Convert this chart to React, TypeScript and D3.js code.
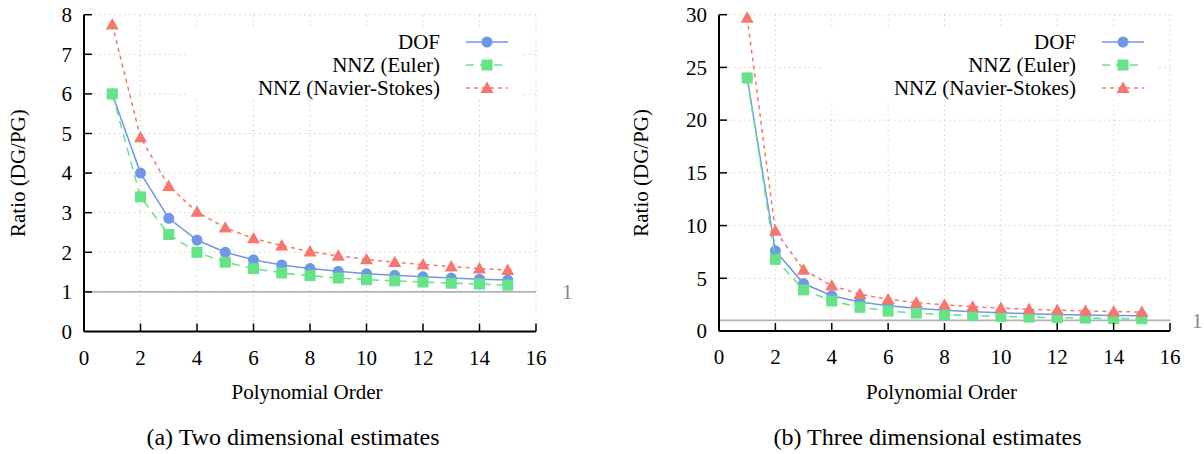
import React from "react";
import * as d3 from "d3";

const orders = [1, 2, 3, 4, 5, 6, 7, 8, 9, 10, 11, 12, 13, 14, 15];

const dof2 = [6, 4, 2.86, 2.31, 2.0, 1.81, 1.68, 1.59, 1.52, 1.46, 1.42, 1.38, 1.35, 1.32, 1.3];
const euler2 = [6, 3.4, 2.45, 2.0, 1.75, 1.59, 1.48, 1.41, 1.35, 1.31, 1.28, 1.25, 1.22, 1.2, 1.17];
const ns2 = [7.75, 4.9, 3.67, 3.02, 2.62, 2.35, 2.17, 2.02, 1.91, 1.82, 1.75, 1.69, 1.64, 1.59, 1.55];

const dof3 = [24, 7.6, 4.5, 3.35, 2.75, 2.4, 2.15, 1.97, 1.83, 1.72, 1.64, 1.57, 1.51, 1.47, 1.44];
const euler3 = [24, 6.8, 3.9, 2.85, 2.25, 1.9, 1.7, 1.55, 1.45, 1.38, 1.32, 1.27, 1.23, 1.19, 1.16];
const ns3 = [29.7, 9.5, 5.8, 4.3, 3.5, 3.0, 2.7, 2.48, 2.3, 2.17, 2.06, 1.98, 1.9, 1.84, 1.8];

const xTicks = [0, 2, 4, 6, 8, 10, 12, 14, 16];
const yTicks2 = [0, 1, 2, 3, 4, 5, 6, 7, 8];
const yTicks3 = [0, 5, 10, 15, 20, 25, 30];

const seriesNames = ["DOF", "NNZ (Euler)", "NNZ (Navier-Stokes)"];
const colors = ["#6f97e8", "#64e388", "#f7766d"];
const dashes = ["none", "8,6", "4,4"];

const FONT = "Liberation Serif, Times New Roman, serif";
const GRID = "#d6d3bb";

type ChartProps = {
  left: number;
  right: number;
  top: number;
  bottom: number;
  yMax: number;
  yTicks: number[];
  series: number[][];
  caption: string;
  titleX: number;
  refLabelX: number;
  legendTextX: number;
  legendBox: [number, number, number, number];
};

function Marker({ kind, x, y, color }: { kind: number; x: number; y: number; color: string }) {
  if (kind === 0) return <circle cx={x} cy={y} r={5.5} fill={color} />;
  if (kind === 1) return <rect x={x - 5.5} y={y - 5.5} width={11} height={11} fill={color} />;
  const s = 6.5;
  const pts = `${x},${y - s} ${x - s},${y + s * 0.75} ${x + s},${y + s * 0.75}`;
  return <polygon points={pts} fill={color} />;
}

function Chart(p: ChartProps) {
  const x = d3.scaleLinear().domain([0, 16]).range([p.left, p.right]);
  const y = d3.scaleLinear().domain([0, p.yMax]).range([p.bottom, p.top]);
  const line = d3
    .line<number>()
    .x((_, i) => x(orders[i]))
    .y((d) => y(d));
  const [bx, by, bw, bh] = p.legendBox;
  const legendRows = [42, 65, 88];
  const sampleX0 = p.legendTextX + 26;
  const sampleX1 = p.legendTextX + 68;
  return (
    <g>
      {xTicks.slice(1).map((t) => (
        <line key={"gx" + t} x1={x(t)} x2={x(t)} y1={p.bottom} y2={p.top} stroke={GRID} strokeWidth={1} strokeDasharray="1.5,3.5" />
      ))}
      {p.yTicks.slice(1).map((t) => (
        <line key={"gy" + t} x1={p.left} x2={p.right} y1={y(t)} y2={y(t)} stroke={GRID} strokeWidth={1} strokeDasharray="1.5,3.5" />
      ))}
      <rect x={bx} y={by} width={bw} height={bh} fill="white" />
      <line x1={p.left} x2={p.right} y1={y(1)} y2={y(1)} stroke="#b3b3b3" strokeWidth={1.8} />
      <text x={p.refLabelX} y={y(1)} dy="0.35em" fontFamily={FONT} fontSize={21} fill="#888">
        1
      </text>
      {p.series.map((s, k) => (
        <g key={"s" + k}>
          <path d={line(s) || ""} fill="none" stroke={colors[k]} strokeWidth={1.5} strokeDasharray={dashes[k]} />
          {s.map((v, i) => (
            <Marker key={i} kind={k} x={x(orders[i])} y={y(v)} color={colors[k]} />
          ))}
        </g>
      ))}
      <line x1={p.left} x2={p.left} y1={p.top} y2={p.bottom} stroke="#000" strokeWidth={2} />
      <line x1={p.left} x2={p.right} y1={p.bottom} y2={p.bottom} stroke="#000" strokeWidth={2} />
      {xTicks.map((t) => (
        <g key={"xt" + t}>
          {t > 0 && <line x1={x(t)} x2={x(t)} y1={p.bottom} y2={p.bottom - 8} stroke="#000" strokeWidth={1.5} />}
          <text x={x(t)} y={p.bottom + 26} textAnchor="middle" dy="0.35em" fontFamily={FONT} fontSize={21}>
            {t}
          </text>
        </g>
      ))}
      {p.yTicks.map((t) => (
        <g key={"yt" + t}>
          {t > 0 && <line x1={p.left} x2={p.left + 8} y1={y(t)} y2={y(t)} stroke="#000" strokeWidth={1.5} />}
          <text x={p.left - 12} y={y(t)} textAnchor="end" dy="0.35em" fontFamily={FONT} fontSize={21}>
            {t}
          </text>
        </g>
      ))}
      <text x={(p.left + p.right) / 2 - 3} y={392} textAnchor="middle" dy="0.35em" fontFamily={FONT} fontSize={21}>
        Polynomial Order
      </text>
      <text
        transform={`translate(${p.titleX},${(p.top + p.bottom) / 2}) rotate(-90)`}
        textAnchor="middle"
        dy="0.35em"
        fontFamily={FONT}
        fontSize={21}
      >
        Ratio (DG/PG)
      </text>
      <text x={(p.left + p.right) / 2 - 17} y={437} textAnchor="middle" dy="0.35em" fontFamily={FONT} fontSize={24}>
        {p.caption}
      </text>
      {seriesNames.map((n, k) => (
        <g key={"lg" + k}>
          <text x={p.legendTextX} y={legendRows[k]} textAnchor="end" dy="0.35em" fontFamily={FONT} fontSize={21}>
            {n}
          </text>
          <line x1={sampleX0} x2={sampleX1} y1={legendRows[k]} y2={legendRows[k]} stroke={colors[k]} strokeWidth={1.5} strokeDasharray={dashes[k]} />
          <Marker kind={k} x={(sampleX0 + sampleX1) / 2} y={legendRows[k]} color={colors[k]} />
        </g>
      ))}
    </g>
  );
}

export default function App() {
  return (
    <svg width={1204} height={454} style={{ position: "absolute", left: 0, top: 0, background: "white" }}>
      <rect width={1204} height={454} fill="white" />
      <Chart
        left={84}
        right={536}
        top={14.7}
        bottom={331.5}
        yMax={8}
        yTicks={yTicks2}
        series={[dof2, euler2, ns2]}
        caption="(a) Two dimensional estimates"
        titleX={18}
        refLabelX={562}
        legendTextX={440}
        legendBox={[188, 28, 335, 72]}
      />
      <Chart
        left={719}
        right={1170}
        top={14.7}
        bottom={331}
        yMax={30}
        yTicks={yTicks3}
        series={[dof3, euler3, ns3]}
        caption="(b) Three dimensional estimates"
        titleX={641}
        refLabelX={1192}
        legendTextX={1076}
        legendBox={[823, 28, 335, 72]}
      />
    </svg>
  );
}
